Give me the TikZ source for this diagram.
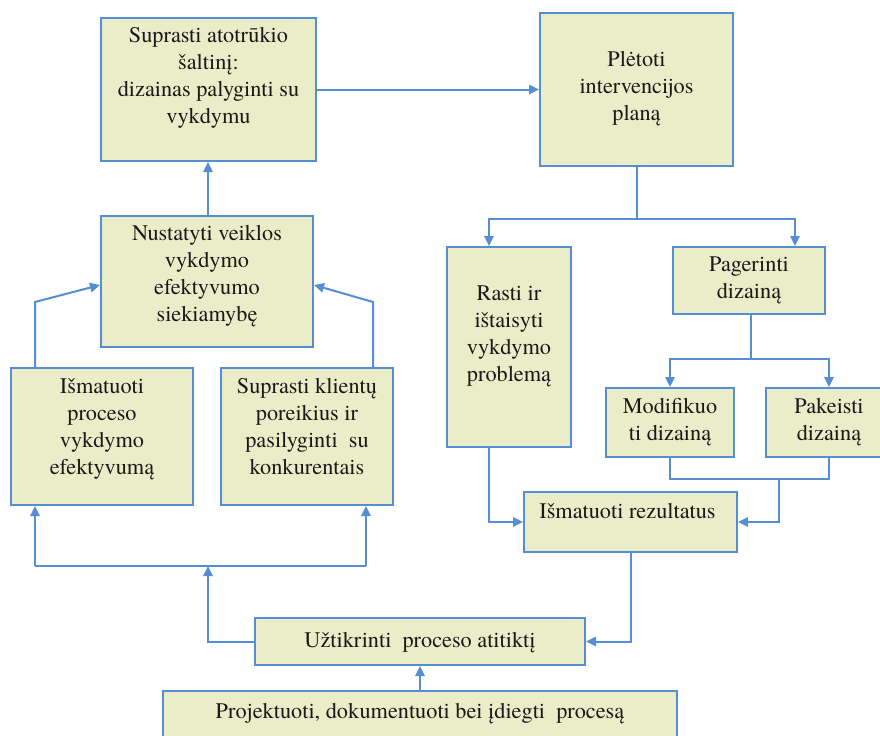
\documentclass[tikz,border=0pt]{standalone}
\usepackage{fontspec}
\setmainfont{texgyretermes}[Extension=.otf, UprightFont=*-regular, BoldFont=*-bold, ItalicFont=*-italic, BoldItalicFont=*-bolditalic]
\usetikzlibrary{arrows.meta,fit}
\definecolor{boxfill}{RGB}{234,237,200}
\definecolor{linkblue}{RGB}{85,142,213}
\begin{document}
\begin{tikzpicture}[x=0.75pt,y=-0.75pt,
  box/.style={draw=linkblue, line width=1.5pt, fill=boxfill, inner sep=0pt},
  txt/.style={align=center, text=black!90, inner sep=0pt,
    font=\fontsize{16.7}{20.25}\selectfont,
    execute at begin node=\strut, execute at end node=\strut},
  link/.style={draw=linkblue, line width=1.5pt},
  arr/.style={link, -{Triangle[length=7.5pt,width=7pt]}}]

\path[use as bounding box, clip] (0,0) rectangle (880,735);

% boxes
\node[box, fit={(101,18) (316,161)}]  (A) {};
\node[box, fit={(540,13) (733,166)}]  (B) {};
\node[box, fit={(101,216) (313,347)}] (C) {};
\node[box, fit={(11,368) (193,505)}]  (D) {};
\node[box, fit={(221,368) (393,505)}] (E) {};
\node[box, fit={(447,247) (571,447)}] (F) {};
\node[box, fit={(673,247) (825,314)}] (G) {};
\node[box, fit={(606,388) (734,457)}] (H) {};
\node[box, fit={(766,388) (892,457)}] (I) {};
\node[box, fit={(524,492) (737,552)}] (J) {};
\node[box, fit={(255,618) (585,665)}] (K) {};
\node[box, fit={(163,691) (677,745)}] (L) {};

% texts
\node[txt] (At) at (208.5,79)  {Suprasti atotrūkio\\šaltinį:\\dizainas palyginti su\\vykdymu};
\node[txt] (Bt) at (636.5,90)  {Plėtoti\\intervencijos\\planą};
\node[txt] (Ct) at (207,277)   {Nustatyti veiklos\\vykdymo\\efektyvumo\\siekiamybę};
\node[txt] (Dt) at (102,430.5) {Išmatuoti\\proceso\\vykdymo\\efektyvumą};
\node[txt] (Et) at (307,430.5) {Suprasti klientų\\poreikius ir\\pasilyginti~ su\\konkurentais};
\node[txt] (Ft) at (509,337.5) {Rasti ir\\ištaisyti\\vykdymo\\problemą};
\node[txt] (Gt) at (749,282)   {Pagerinti\\dizainą};
\node[txt] (Ht) at (670,423.5) {Modifikuo\\ti dizainą};
\node[txt] (It) at (829,423.5) {Pakeisti\\dizainą};
\node[txt] (Jt) at (627.5,513) {Išmatuoti rezultatus};
\node[txt] (Kt) at (420,642)   {Užtikrinti~ proceso atitiktį};
\node[txt] (Lt) at (420,713)   {Projektuoti, dokumentuoti bei įdiegti~ procesą};

% bend points
\coordinate (cl) at (0,285);
\coordinate (dc) at (35,302);
\coordinate (ec) at (373,302);
\coordinate (bF) at (489,219);
\coordinate (bG) at (795,219);
\coordinate (gB) at (751,359);
\coordinate (gH) at (670,359);
\coordinate (gI) at (829,359);
\coordinate (hi) at (779,479);
\coordinate (kd) at (208,566);
\coordinate (de1) at (35,566);
\coordinate (de2) at (366,566);

% connectors
\draw[arr] (A.east) -- (B.west);
\draw[arr] (C.north -| kd) -- (A.south -| kd);
\draw[arr] (D.north -| dc) -- (dc) -- (C.west |- cl);
\draw[arr] (E.north -| ec) -- (ec) -- (C.east |- cl);

\draw[link] (B.south) -- (B.south |- bF);
\draw[arr] (B.south |- bF) -- (bF) -- (F.north -| bF);
\draw[arr] (B.south |- bF) -- (bG) -- (G.north -| bG);

\draw[link] (G.south -| gB) -- (gB);
\draw[arr] (gB) -- (gH) -- (H.north);
\draw[arr] (gB) -- (gI) -- (I.north);

\draw[link] (H.south) |- (hi);
\draw[link] (I.south) |- (hi);
\draw[arr] (hi) |- (J.east);
\draw[arr] (F.south -| bF) |- (J.west);

\draw[arr] (J.south) |- (K.east);
\draw[arr] (L.north) -- (K.south);
\draw[arr] (K.west) -| (kd);
\draw[link] (de1) -- (de2);
\draw[arr] (de1) -- (D.south -| de1);
\draw[arr] (de2) -- (E.south -| de2);
\end{tikzpicture}
\end{document}
